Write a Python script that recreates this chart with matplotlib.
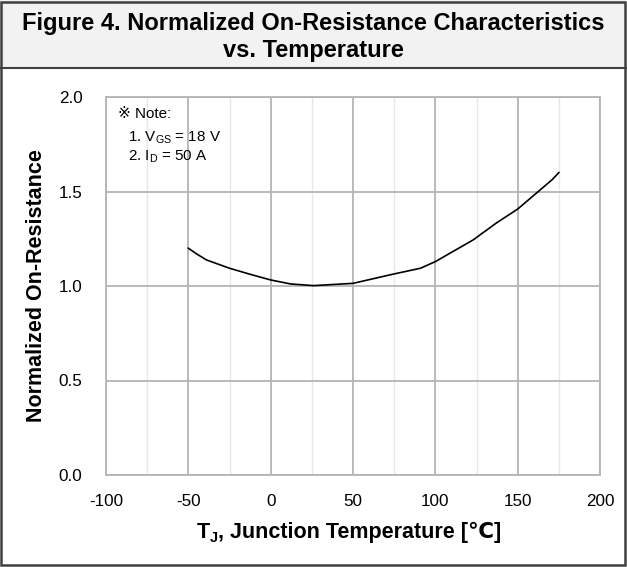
import matplotlib
matplotlib.use("Agg")
import matplotlib.pyplot as plt
from matplotlib.patches import Rectangle
from matplotlib.lines import Line2D

plt.rcParams['font.family'] = ['Liberation Sans', 'DejaVu Sans']
plt.rcParams['mathtext.fontset'] = 'custom'
plt.rcParams['mathtext.rm'] = 'Liberation Sans'
plt.rcParams['mathtext.it'] = 'Liberation Sans:italic'
plt.rcParams['mathtext.bf'] = 'Liberation Sans:bold'
plt.rcParams['xtick.major.pad'] = 14
plt.rcParams['ytick.major.pad'] = 17
plt.rcParams['xtick.labelsize'] = 12.3
plt.rcParams['ytick.labelsize'] = 12.3

# data
temperature = [-50, -45, -39, -25, -12.5, 0, 12, 26, 50, 74, 91, 100, 123, 137, 150, 171, 175]
resistance = [1.20, 1.170, 1.138, 1.094, 1.062, 1.032, 1.011, 1.002, 1.014, 1.062, 1.094,
              1.129, 1.244, 1.333, 1.407, 1.563, 1.60]
x_ticks = [-100, -50, 0, 50, 100, 150, 200]
x_minor = [-75, -25, 25, 75, 125, 175]
y_ticks = [0.0, 0.5, 1.0, 1.5, 2.0]
title = "Figure 4. Normalized On-Resistance Characteristics\nvs. Temperature"
note_lines = ["\u203b Note:", "1. V$_{\\mathrm{GS}}$ = 18 V", "2. I$_{\\mathrm{D}}$ = 50 A"]
xlabel_parts = ["T", "J", ", Junction Temperature [\u2103]"]
ylabel = "Normalized On-Resistance"

W, H = 627, 567
fig = plt.figure(figsize=(W / 100, H / 100), dpi=100)

# title band and frame
fig.patches.append(Rectangle((0, 1 - 68 / H), 1, 68 / H, transform=fig.transFigure,
                             facecolor='#f2f2f2', edgecolor='none', zorder=0))
fig.lines.append(Line2D([0, 1], [1 - 68 / H, 1 - 68 / H], transform=fig.transFigure,
                        color='#404040', lw=1.5))
fig.patches.append(Rectangle((1 / W, 2 / H), 1 - 3 / W, 1 - 4 / H, transform=fig.transFigure,
                             facecolor='none', edgecolor='#404040', lw=1.8, zorder=5))
fig.text(0.5, 1 - 37 / H, title, ha='center', va='center', fontsize=17,
         fontweight='bold', linespacing=1.27)

ax = fig.add_axes([106 / W, 1 - 475 / H, (600 - 106) / W, (475 - 97) / H])
ax.plot(temperature, resistance, color='black', lw=1.2, zorder=3)
ax.set_xlim(-100, 200)
ax.set_ylim(0, 2.0)
ax.set_xticks(x_ticks)
ax.set_xticks(x_minor, minor=True)
ax.set_yticks(y_ticks)
ax.set_xticklabels([str(t) for t in x_ticks], fontsize=12.3)
ax.set_yticklabels([f"{v:.1f}" for v in y_ticks], fontsize=12.3)
ax.grid(True, which='major', color='#b4b4b4', lw=1.3)
ax.grid(True, which='minor', axis='x', color='#e8e8e8', lw=1.0)
ax.set_axisbelow(True)
ax.tick_params(which='both', length=0)
for s in ax.spines.values():
    s.set_color('#b4b4b4')
    s.set_linewidth(1.3)

# y label
fig.text(37 / W, 1 - 286 / H, ylabel, rotation=90, ha='center', va='center',
         fontsize=15.5, fontweight='bold')

# x label built from pieces (subscript J, and the degree-Celsius sign)
renderer = fig.canvas.get_renderer()
sizes = [15.5, 10.5, 15.5]
drops = [0, 4, 0]
texts = [fig.text(0, 0, s, fontsize=fs, fontweight='bold', va='baseline', ha='left')
         for s, fs in zip(xlabel_parts, sizes)]
widths = [t.get_window_extent(renderer).width for t in texts]
x0 = 349 - sum(widths) / 2
base = 538
for t, w, d in zip(texts, widths, drops):
    t.set_position((x0 / W, 1 - (base + d) / H))
    x0 += w

ax.text(0.025, 0.955, note_lines[0], transform=ax.transAxes, fontsize=10.9, va='center')
ax.text(0.045, 0.893, note_lines[1], transform=ax.transAxes, fontsize=10.9, va='center')
ax.text(0.045, 0.843, note_lines[2], transform=ax.transAxes, fontsize=10.9, va='center')

fig.savefig("out.png", dpi=100)
